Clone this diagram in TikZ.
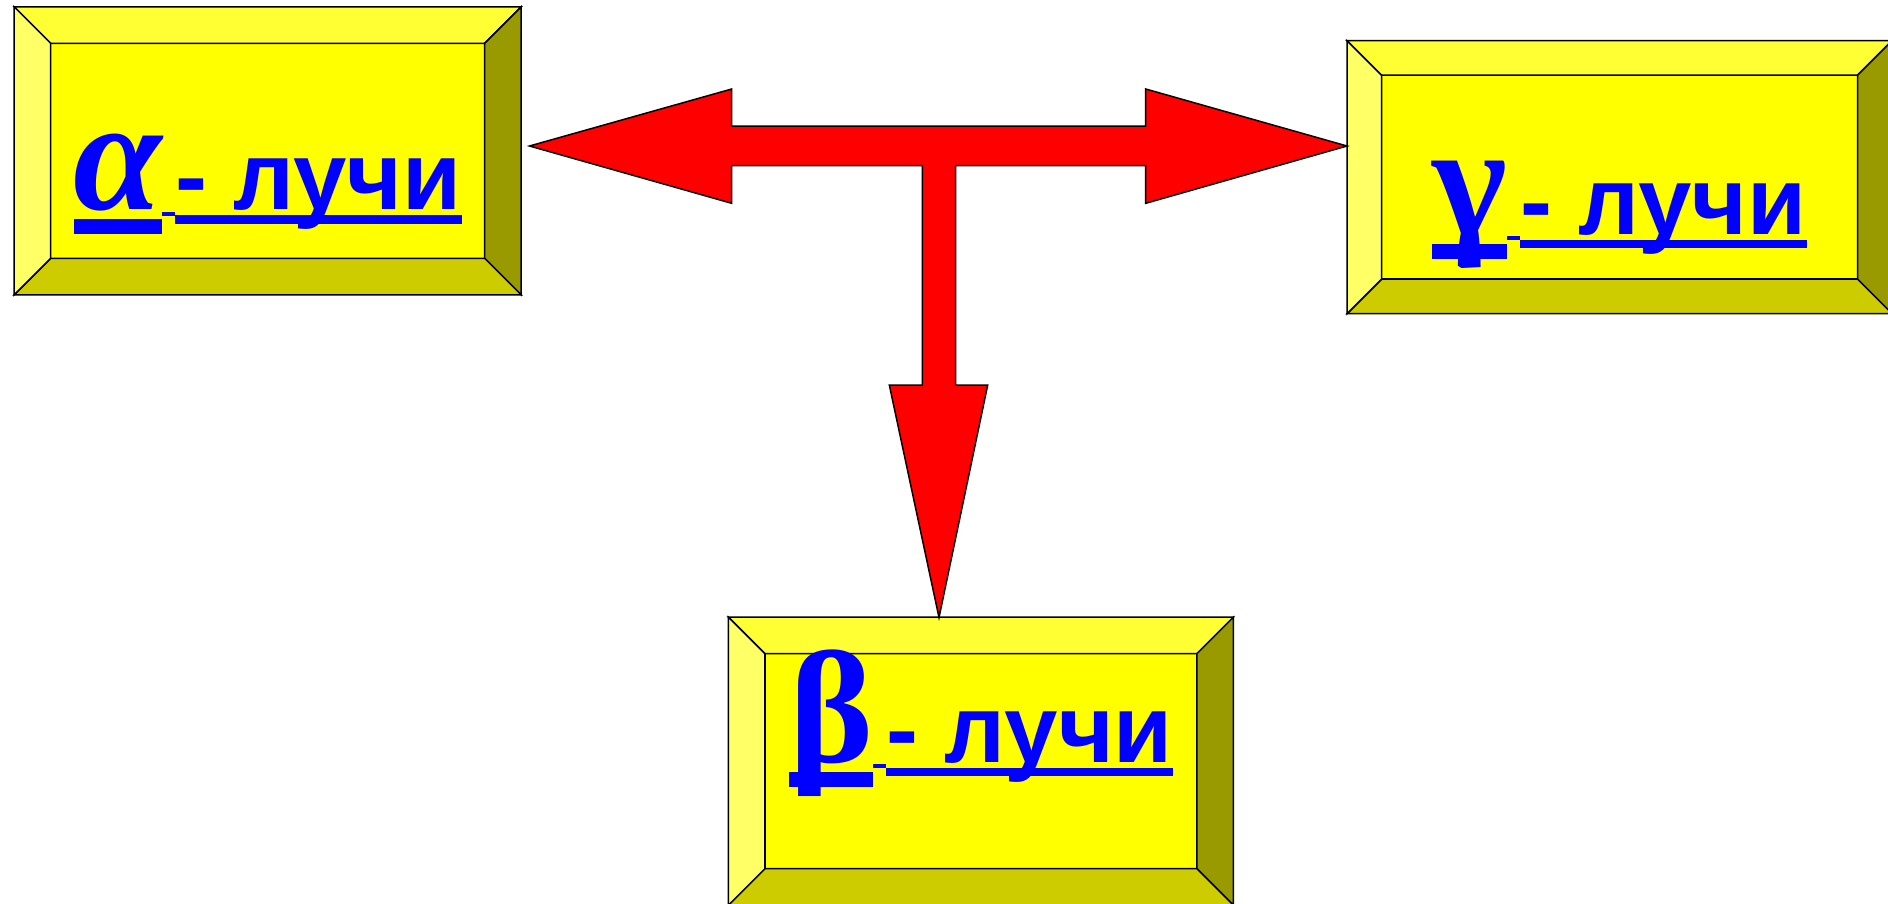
\documentclass[tikz,border=0pt]{standalone}
\usepackage{fontspec}
\usepackage{tikz}
\usetikzlibrary{calc, positioning}
\newfontfamily\greekfont{Liberation Serif}
\newfontfamily\labelfont{Liberation Sans}
\definecolor{facecol}{HTML}{FFFF00}
\definecolor{bevtop}{HTML}{FFFF33}
\definecolor{bevleft}{HTML}{FFFF66}
\definecolor{bevbottom}{HTML}{CCCC00}
\definecolor{bevright}{HTML}{999900}
\definecolor{raycol}{HTML}{0000FF}
\definecolor{arrowred}{HTML}{FF0000}
\tikzset{
	facebox/.style={draw, line width=1.5pt, fill=facecol, inner sep=0pt, outer sep=0pt},
	bevelpart/.style={draw, line width=1.5pt, line join=miter, fill=#1},
	raytext/.style={text=raycol, inner sep=0pt, outer sep=0pt},
	bigarrow/.style={draw, line width=1.5pt, line join=miter, fill=arrowred},
}
% label: greek letter, short joint, "- лучи", each underlined
\newcommand\raylabel[1]{%
	\setbox0\hbox{\greekfont\bfseries\fontsize{160}{160}\selectfont #1}%
	\rlap{\rule[-24.5pt]{\wd0}{15pt}}\box0
	\rlap{\rule[-6pt]{13pt}{4pt}}\hspace{13pt}%
	\setbox0\hbox{\labelfont\bfseries\fontsize{96}{96}\selectfont - лучи}%
	\rlap{\rule[-14pt]{\wd0}{8.5pt}}\box0}
% bevelled frame round a face node
\newcommand\bevels[2][36]{%
	\path (#2.north west) ++(-#1,#1) coordinate (#2-onw)
		(#2.south east) ++(#1,-#1) coordinate (#2-ose);
	\draw[bevelpart=bevtop] (#2-onw) -- (#2-ose |- #2-onw) -- (#2.north east) -- (#2.north west) -- cycle;
	\draw[bevelpart=bevright] (#2-ose |- #2-onw) -- (#2-ose) -- (#2.south east) -- (#2.north east) -- cycle;
	\draw[bevelpart=bevbottom] (#2-ose) -- (#2-onw |- #2-ose) -- (#2.south west) -- (#2.south east) -- cycle;
	\draw[bevelpart=bevleft] (#2-onw |- #2-ose) -- (#2-onw) -- (#2.north west) -- (#2.south west) -- cycle;
}

\begin{document}
\begin{tikzpicture}[x=1pt, y=1pt]
	\useasboundingbox (0,0) rectangle (1888,-903);
	\fill[white] (0,0) rectangle (1888,-903);

	% Boxes
	\node[facebox, minimum width=434pt, minimum height=215pt] (alphaface) at (267.7,-150.8) {};
	\node[facebox, minimum width=476pt, minimum height=204pt] (gammaface) at (1619.5,-177.2) {};
	\node[facebox, minimum width=432pt, minimum height=215pt] (betaface) at (980.9,-761.2) {};
	\bevels[36.5]{alphaface}
	\bevels[34.5]{gammaface}
	\bevels[36.5]{betaface}

	% Labels
	\node[raytext, anchor=base] (alphatext) at ([yshift=-59pt]alphaface.center) {\raylabel{\itshape α}};
	\node[raytext, anchor=base] (gammatext) at ([yshift=-57pt]gammaface.center) {\raylabel{γ}};
	\node[raytext, anchor=base] (betatext) at ([yshift=-1pt]betaface.center) {\raylabel{β}};

	% Arrow tips
	\coordinate (ltip) at (529.5,-146);
	\coordinate (rtip) at (gammaface-onw |- ltip);
	\coordinate (dtip) at (939,-617.5);

	% T-shaped arrow
	\draw[bigarrow] (ltip) -- (731.7,-89) -- (731.7,-126) -- (1145.7,-126) -- (1145.7,-89)
		-- (rtip) -- (1145.7,-203.3) -- (1145.7,-165.7) -- (955.7,-165.7) -- (955.7,-385)
		-- (987.7,-385) -- (dtip) -- (889.3,-385) -- (922.3,-385) -- (922.3,-165.7)
		-- (731.7,-165.7) -- (731.7,-203.3) -- cycle;
\end{tikzpicture}
\end{document}
